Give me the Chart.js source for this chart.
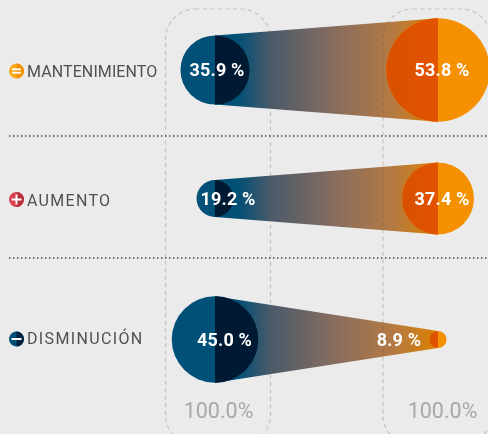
<!DOCTYPE html>
<html><head><meta charset="utf-8">
<style>html,body{margin:0;padding:0;background:#ebebeb}canvas{display:block}</style>
<script src="https://cdn.jsdelivr.net/npm/chart.js@4"></script>
</head><body>
<div style="width:488px;height:434px"><canvas id="c" width="488" height="434"></canvas></div>
<script>
const categories = ["MANTENIMIENTO", "AUMENTO", "DISMINUCIÓN"];
const firstValues = [35.9, 19.2, 45.0];
const secondValues = [53.8, 37.4, 8.9];
const totals = ["100.0%", "100.0%"];

// layout (not data)
const rowCenters = [70, 198.5, 339.5];
const separators = [136, 258];
const radiusPerPercent = 0.962;
const firstLabelShift = [2, 13, 9.5];
const secondLabelShift = [4, 4, -39];
const letterGap = ["0.1px", "1.3px", "1.35px"];
const iconColors = [["#fbaa1c", "#f59000"], ["#d9414f", "#b8303c"], ["#005078", "#00213f"]];

const toPoints = vals => vals.map((v, i) => ({ x: vals === firstValues ? 0 : 1, y: rowCenters[i], r: v * radiusPerPercent, v }));

const sketch = {
  id: "sketch",
  beforeDatasetsDraw(chart) {
    const { ctx, chartArea: a } = chart;
    const A = chart.getDatasetMeta(0).data, B = chart.getDatasetMeta(1).data;
    ctx.save();
    ctx.strokeStyle = "#3d3d3d"; ctx.lineWidth = 1.4; ctx.setLineDash([1.4, 2.6]);
    separators.forEach(y => { const p = chart.scales.y.getPixelForValue(y);
      ctx.beginPath(); ctx.moveTo(9, p); ctx.lineTo(a.right, p); ctx.stroke(); });
    ctx.setLineDash([]);
    A.forEach((e, i) => {
      const f = B[i], ra = e.options.radius, rb = f.options.radius;
      const g = ctx.createLinearGradient(e.x, 0, f.x, 0);
      g.addColorStop(0, "#004f75"); g.addColorStop(0.1, "#004f75");
      g.addColorStop(0.25, "#4a5a6a"); g.addColorStop(0.55, "#8a6e5e");
      g.addColorStop(0.8, "#b57a42"); g.addColorStop(1, "#dc8000");
      ctx.fillStyle = g;
      ctx.beginPath(); ctx.moveTo(e.x, e.y - ra); ctx.lineTo(f.x, f.y - rb);
      ctx.lineTo(f.x, f.y + rb); ctx.lineTo(e.x, e.y + ra); ctx.closePath(); ctx.fill();
    });
    ctx.restore();
  },
  afterDatasetsDraw(chart) {
    const { ctx } = chart;
    const x = chart.scales.x;
    const A = chart.getDatasetMeta(0).data, B = chart.getDatasetMeta(1).data;
    ctx.save();
    A.forEach(e => { ctx.fillStyle = "#001a33"; ctx.beginPath();
      ctx.arc(e.x, e.y, e.options.radius, -Math.PI / 2, Math.PI / 2); ctx.closePath(); ctx.fill(); });
    B.forEach(e => { const r = e.options.radius;
      const g = ctx.createLinearGradient(e.x - r, 0, e.x, 0);
      g.addColorStop(0, "#d85000"); g.addColorStop(1, "#e35300");
      ctx.fillStyle = g; ctx.beginPath();
      ctx.arc(e.x, e.y, r, Math.PI / 2, 3 * Math.PI / 2); ctx.closePath(); ctx.fill(); });
    ctx.strokeStyle = "rgba(110,85,60,0.27)"; ctx.lineWidth = 1.2; ctx.setLineDash([4, 3.5]);
    [[165.5, 105], [383, 108]].forEach(([l, w]) => { ctx.beginPath(); ctx.roundRect(l, 9, w, 436, 30); ctx.stroke(); });
    ctx.setLineDash([]);
    ctx.fillStyle = "#fff"; ctx.font = "700 18px Roboto"; ctx.letterSpacing = "0.2px";
    ctx.textAlign = "center"; ctx.textBaseline = "middle";
    A.forEach((e, i) => ctx.fillText(firstValues[i].toFixed(1) + " %", e.x + firstLabelShift[i], e.y + 1.5));
    B.forEach((e, i) => ctx.fillText(secondValues[i].toFixed(1) + " %", e.x + secondLabelShift[i], e.y + 1.5));
    ctx.fillStyle = "#a8a8a8"; ctx.font = "400 21.5px Roboto"; ctx.letterSpacing = "0px";
    totals.forEach((t, i) => ctx.fillText(t, x.getPixelForValue(i) + (i ? 4.5 : 3.5), 413));
    ctx.textAlign = "left";
    categories.forEach((c, i) => {
      const y = chart.scales.y.getPixelForValue(rowCenters[i]) + 1 - (i === 2 ? 1.5 : 0) ;
      const cx = 16.5, r = 7.5;
      ctx.fillStyle = iconColors[i][0]; ctx.beginPath(); ctx.arc(cx, y, r, 0, 7); ctx.fill();
      ctx.fillStyle = iconColors[i][1]; ctx.beginPath(); ctx.arc(cx, y, r, -Math.PI / 2, Math.PI / 2); ctx.fill();
      ctx.fillStyle = "#fff";
      if (i === 0) { ctx.fillRect(cx - 4.5, y - 2.6, 9, 1.8); ctx.fillRect(cx - 4.5, y + 0.8, 9, 1.8); }
      if (i === 1) { ctx.fillRect(cx - 5, y - 1, 10, 2); ctx.fillRect(cx - 1, y - 5, 2, 10); }
      if (i === 2) { ctx.fillRect(cx - 5, y - 1, 10, 2); }
      ctx.fillStyle = "#505050"; ctx.font = "400 16px Roboto"; ctx.letterSpacing = letterGap[i];
      ctx.fillText(c, 27, y + (i === 2 ? 1 : 2));
    });
    ctx.restore();
  }
};

new Chart(document.getElementById("c"), {
  type: "bubble",
  data: { datasets: [
    { label: "Primera", data: toPoints(firstValues), backgroundColor: "#005078", borderWidth: 0, hoverRadius: 0, clip: false },
    { label: "Segunda", data: toPoints(secondValues), backgroundColor: "#f59000", borderWidth: 0, hoverRadius: 0, clip: false }
  ] },
  options: {
    responsive: false, animation: false, events: [],
    layout: { padding: 0, autoPadding: false },
    plugins: { legend: { display: false }, tooltip: { enabled: false } },
    scales: {
      x: { type: "linear", display: false, min: -215 / 223, max: 273 / 223 },
      y: { type: "linear", display: false, min: 0, max: 434, reverse: true }
    }
  },
  plugins: [sketch]
});
</script></body></html>
